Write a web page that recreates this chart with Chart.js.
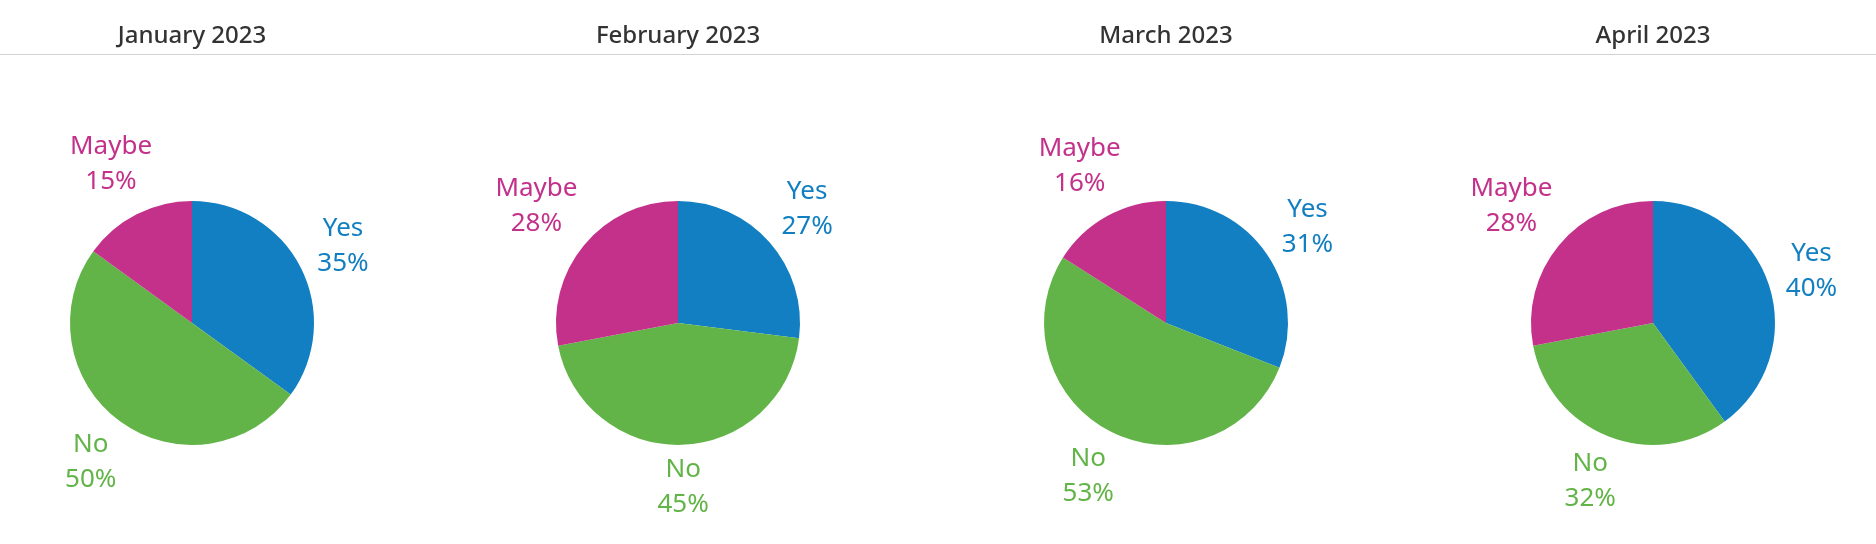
<!DOCTYPE html>
<html>
<head>
<meta charset="utf-8">
<script src="https://cdn.jsdelivr.net/npm/chart.js@4"></script>
<style>
  html, body { margin: 0; padding: 0; background: #fff; }
  body { position: relative; width: 1876px; height: 544px; overflow: hidden; }
  .rule { position: absolute; left: 0; top: 54px; width: 1876px; height: 0; border-top: 1px solid #d2d2d2; }
  canvas { position: absolute; top: 0; }
</style>
</head>
<body>
<div class="rule"></div>
<canvas id="pie0" width="440" height="544" style="left:-28px"></canvas>
<canvas id="pie1" width="440" height="544" style="left:458px"></canvas>
<canvas id="pie2" width="440" height="544" style="left:946px"></canvas>
<canvas id="pie3" width="440" height="544" style="left:1433px"></canvas>
<script>
// data
var months = ['January 2023', 'February 2023', 'March 2023', 'April 2023'];
var answers = ['Yes', 'No', 'Maybe'];
var yesPct = [35, 27, 31, 40];
var noPct = [50, 45, 53, 32];
var maybePct = [15, 28, 16, 28];

var answerColors = ['#117fc1', '#63b448', '#c3318b'];

// labels outside each slice, name on top and percentage below.
// the two-line text box is pushed out along the slice's middle angle
// until it clears the pie by a small gap
var sliceLabels = {
  id: 'sliceLabels',
  afterDatasetsDraw: function (chart) {
    var ctx = chart.ctx;
    var meta = chart.getDatasetMeta(0);
    var vals = chart.data.datasets[0].data;
    var lineGap = 35;
    var halfH = 30;
    ctx.save();
    ctx.font = '26px "Noto Sans"';
    ctx.textAlign = 'center';
    ctx.textBaseline = 'middle';
    meta.data.forEach(function (arc, i) {
      var p = arc.getProps(['x', 'y', 'startAngle', 'endAngle', 'outerRadius'], true);
      var name = chart.data.labels[i];
      var pct = vals[i] + '%';
      var halfW = Math.max(ctx.measureText(name).width, ctx.measureText(pct).width) / 2;
      var mid = (p.startAngle + p.endAngle) / 2;
      var dx = Math.cos(mid), dy = Math.sin(mid);
      var d = p.outerRadius + 11 + halfW * Math.abs(dx) + halfH * Math.abs(dy);
      var lx = p.x + dx * d;
      var ly = p.y + dy * d;
      ctx.fillStyle = answerColors[i];
      ctx.fillText(name, lx, ly - lineGap / 2);
      ctx.fillText(pct, lx, ly + lineGap / 2);
    });
    ctx.restore();
  }
};

months.forEach(function (month, m) {
  var ctx = document.getElementById('pie' + m).getContext('2d');
  new Chart(ctx, {
    type: 'pie',
    data: {
      labels: answers,
      datasets: [{
        data: [yesPct[m], noPct[m], maybePct[m]],
        backgroundColor: answerColors,
        borderWidth: 0
      }]
    },
    options: {
      responsive: false,
      animation: false,
      devicePixelRatio: 1,
      layout: { padding: { left: 98, right: 98, top: 0, bottom: 99 } },
      plugins: {
        legend: { display: false },
        tooltip: { enabled: false },
        title: {
          display: true,
          text: month,
          color: '#333333',
          font: { family: '"Noto Sans"', size: 24, weight: '500', lineHeight: 1.2 },
          padding: { top: 21.5, bottom: 150.5 }
        }
      }
    },
    plugins: [sliceLabels]
  });
});
</script>
</body>
</html>
